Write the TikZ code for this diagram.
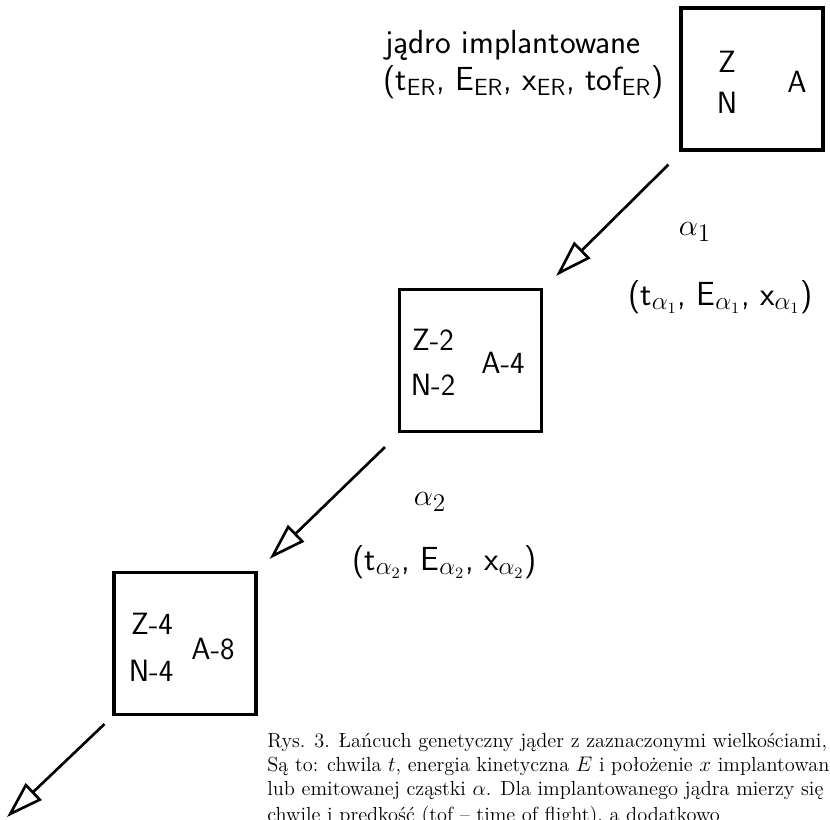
\documentclass[tikz,border=0pt]{standalone}
\usepackage{tikz}
\usetikzlibrary{arrows.meta,positioning,calc}
\tikzset{
  nucbox/.style={draw,line width=1.8pt,minimum width=28.4mm,minimum height=28.4mm,inner sep=0pt},
  nuc/.style={font=\sffamily\fontsize{17.5}{21}\selectfont,inner sep=0pt},
  lbl/.style={font=\sffamily\fontsize{19}{23}\selectfont,inner sep=0pt},
  decay/.style={-{Triangle[open,length=7.4mm,width=4.6mm]},line width=1.5pt},
  capt/.style={font=\fontsize{11.6}{14}\selectfont,anchor=base west,inner sep=0pt},
}

\begin{document}
\begin{tikzpicture}[x=0.2mm,y=-0.2mm]
  \useasboundingbox (0,0) rectangle (830,819);
  % the three nuclei of the chain
  \node[nucbox] (b1) at (752,79) {};
  \node[nucbox] (b2) at (470.5,360.5) {};
  \node[nucbox] (b3) at (185,643.5) {};
  \node[nuc] (z1) at (727,62) {Z};
  \node[nuc] (n1) at (727,103) {N};
  \node[nuc] (m1) at (797,82) {A};
  \node[nuc] (z2) at (433,340) {Z-2};
  \node[nuc] (n2) at (433,385) {N-2};
  \node[nuc] (m2) at (503,363) {A-4};
  \node[nuc] (z3) at (152,624) {Z-4};
  \node[nuc] (n3) at (151,671) {N-4};
  \node[nuc] (m3) at (213,649) {A-8};
  % implanted nucleus and alpha labels
  \node[lbl,anchor=base west] (impl) at (385,53) {jądro implantowane};
  \node[lbl,anchor=base west] (erdat) at (383,90) {(t\textsubscript{ER}, E\textsubscript{ER}, x\textsubscript{ER}, tof\textsubscript{ER})};
  \node[lbl] (al1) at (695,232) {$\alpha_1$};
  \node[lbl,anchor=base west] (aldat1) at (628,305) {(t$_{\alpha_1}$, E$_{\alpha_1}$, x$_{\alpha_1}$)};
  \node[lbl] (al2) at (430,502) {$\alpha_2$};
  \node[lbl,anchor=base west] (aldat2) at (352,570) {(t$_{\alpha_2}$, E$_{\alpha_2}$, x$_{\alpha_2}$)};
  % decays
  \coordinate (out) at (7,817);
  \draw[decay] ([shift={(-11,13)}]b1.south west) -- ([shift={(13,-12)}]b2.north east);
  \draw[decay] ([shift={(-13,14)}]b2.south west) -- ([shift={(12,-12)}]b3.north east);
  \draw[decay] ([shift={(-8,8)}]b3.south west) -- (out);
  % caption, one line per node
  \node[capt] (cap1) at (267,747) {Rys. 3. Łańcuch genetyczny jąder z zaznaczonymi wielkościami, mierzonymi};
  \node[capt] (cap2) at (267,771) {Są to: chwila $t$, energia kinetyczna $E$ i położenie $x$ implantowanego};
  \node[capt] (cap3) at (267,795) {lub emitowanej cząstki $\alpha$. Dla implantowanego jądra mierzy się};
  \node[capt] (cap4) at (267,821) {chwilę i prędkość (tof -- time of flight), a dodatkowo};
\end{tikzpicture}
\end{document}
